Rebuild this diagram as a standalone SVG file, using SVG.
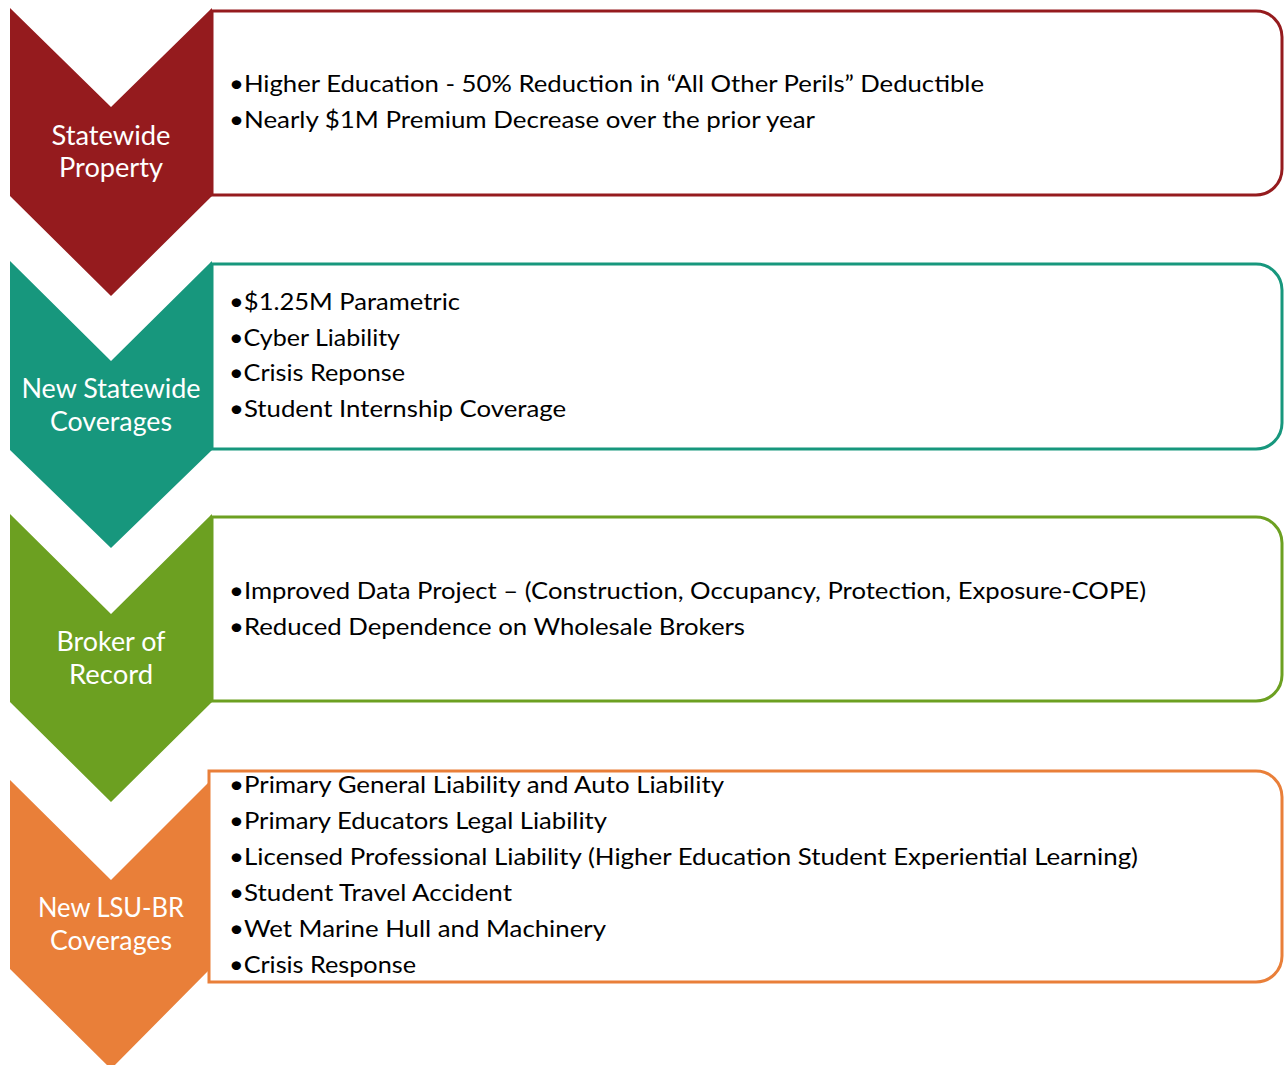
<svg xmlns="http://www.w3.org/2000/svg" width="1284" height="1065" viewBox="0 0 1284 1065">
<style>
.box{fill:#ffffff;stroke-width:3}
.lbl{font-family:Lato,"Open Sans","Liberation Sans",sans-serif;font-size:26px;fill:#ffffff;text-anchor:middle}
.txt{font-family:Lato,"Open Sans","Liberation Sans",sans-serif;font-size:22.5px;fill:#000000}
</style>
<rect width="1284" height="1065" fill="#ffffff"/>
<g id="connectors"></g>
<g id="node-statewide-property">
<path class="box" stroke="#951b1e" d="M212,11 H1256 A26,26 0 0 1 1282,37 V169 A26,26 0 0 1 1256,195 H212 Z"/>
<polygon fill="#951b1e" points="10,8 111,107 212,8 212,196 111,296 10,196"/>
<text class="lbl" x="111" y="145" textLength="119" lengthAdjust="spacingAndGlyphs">Statewide</text>
<text class="lbl" x="111" y="177" textLength="104" lengthAdjust="spacingAndGlyphs">Property</text>
<text class="txt" x="229" y="92" textLength="755" lengthAdjust="spacingAndGlyphs">•Higher Education - 50% Reduction in “All Other Perils” Deductible</text>
<text class="txt" x="229" y="128" textLength="586" lengthAdjust="spacingAndGlyphs">•Nearly $1M Premium Decrease over the prior year</text>
</g>
<g id="node-new-statewide-coverages">
<path class="box" stroke="#17977d" d="M212,264 H1256 A26,26 0 0 1 1282,290 V423 A26,26 0 0 1 1256,449 H212 Z"/>
<polygon fill="#17977d" points="10,261 111,361 212,261 212,450 111,548 10,450"/>
<text class="lbl" x="111" y="398" textLength="179" lengthAdjust="spacingAndGlyphs">New Statewide</text>
<text class="lbl" x="111" y="431" textLength="122" lengthAdjust="spacingAndGlyphs">Coverages</text>
<text class="txt" x="229" y="310" textLength="231" lengthAdjust="spacingAndGlyphs">•$1.25M Parametric</text>
<text class="txt" x="229" y="346" textLength="171" lengthAdjust="spacingAndGlyphs">•Cyber Liability</text>
<text class="txt" x="229" y="381" textLength="176" lengthAdjust="spacingAndGlyphs">•Crisis Reponse</text>
<text class="txt" x="229" y="417" textLength="337" lengthAdjust="spacingAndGlyphs">•Student Internship Coverage</text>
</g>
<g id="node-broker-of-record">
<path class="box" stroke="#6ca021" d="M212,517 H1256 A26,26 0 0 1 1282,543 V675 A26,26 0 0 1 1256,701 H212 Z"/>
<polygon fill="#6ca021" points="10,514 111,614 212,514 212,702 111,802 10,702"/>
<text class="lbl" x="111" y="651" textLength="109" lengthAdjust="spacingAndGlyphs">Broker of</text>
<text class="lbl" x="111" y="684" textLength="84" lengthAdjust="spacingAndGlyphs">Record</text>
<text class="txt" x="229" y="599" textLength="917" lengthAdjust="spacingAndGlyphs">•Improved Data Project – (Construction, Occupancy, Protection, Exposure-COPE)</text>
<text class="txt" x="229" y="635" textLength="516" lengthAdjust="spacingAndGlyphs">•Reduced Dependence on Wholesale Brokers</text>
</g>
<g id="node-new-lsu-br-coverages">
<path class="box" stroke="#e97f39" d="M209,771 H1256 A26,26 0 0 1 1282,797 V956 A26,26 0 0 1 1256,982 H209 Z"/>
<polygon fill="#e97f39" points="10,780 111,880 210,781 210,969 111,1069 10,969"/>
<text class="lbl" x="111" y="917" textLength="146" lengthAdjust="spacingAndGlyphs">New LSU-BR</text>
<text class="lbl" x="111" y="950" textLength="122" lengthAdjust="spacingAndGlyphs">Coverages</text>
<text class="txt" x="229" y="793" textLength="495" lengthAdjust="spacingAndGlyphs">•Primary General Liability and Auto Liability</text>
<text class="txt" x="229" y="829" textLength="378" lengthAdjust="spacingAndGlyphs">•Primary Educators Legal Liability</text>
<text class="txt" x="229" y="865" textLength="909" lengthAdjust="spacingAndGlyphs">•Licensed Professional Liability (Higher Education Student Experiential Learning)</text>
<text class="txt" x="229" y="901" textLength="283" lengthAdjust="spacingAndGlyphs">•Student Travel Accident</text>
<text class="txt" x="229" y="937" textLength="377" lengthAdjust="spacingAndGlyphs">•Wet Marine Hull and Machinery</text>
<text class="txt" x="229" y="973" textLength="187" lengthAdjust="spacingAndGlyphs">•Crisis Response</text>
</g>
</svg>
